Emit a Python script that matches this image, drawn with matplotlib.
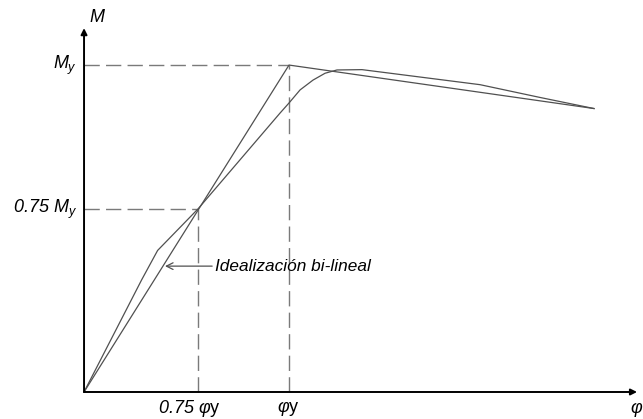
import matplotlib.pyplot as plt

plt.rcParams['font.family'] = ['Liberation Sans', 'DejaVu Sans']
plt.rcParams['mathtext.fontset'] = 'custom'
plt.rcParams['mathtext.it'] = 'Liberation Sans:italic'
plt.rcParams['mathtext.rm'] = 'Liberation Sans:italic'
plt.rcParams['mathtext.sf'] = 'Liberation Sans'

# ================= DATA ================= #
# curvature normalised by phi_y, moment normalised by M_y
phi_curve = [0, 0.281, 0.359, 0.556, 0.956, 1.0, 1.054, 1.117, 1.176, 1.234, 1.356,
             1.932, 2.224, 2.488]
m_curve = [0, 0.343, 0.433, 0.560, 0.853, 0.884, 0.924, 0.954, 0.975, 0.985, 0.986,
           0.940, 0.901, 0.867]

phi_bilin = [0, 1.0, 2.488]
m_bilin = [0, 1.0, 0.867]

phi_075 = 0.556   # where 0.75 M_y sits on the drawing
m_075 = 0.560
phi_y = 1.0
m_y = 1.0

x_axis_end = 2.698
y_axis_end = 1.113

# ================= PLOT ================= #
fig = plt.figure(figsize=(6.43, 4.19), dpi=100)
ax = fig.add_axes([0, 0, 1, 1])
ax.set_xlim(-0.410, 2.727)
ax.set_ylim(-0.0826, 1.199)
ax.axis('off')

line_col = '#505050'
dash_col = '#7a7a7a'
dash = (0, (11, 4.5))

# guide lines
ax.plot([0, phi_y], [m_y, m_y], color=dash_col, lw=1.0, ls=dash)
ax.plot([phi_y, phi_y], [0, m_y], color=dash_col, lw=1.0, ls=dash)
ax.plot([0, phi_075], [m_075, m_075], color=dash_col, lw=1.0, ls=dash)
ax.plot([phi_075, phi_075], [0, m_075], color=dash_col, lw=1.0, ls=dash)

# curves
ax.plot(phi_curve, m_curve, color=line_col, lw=0.9)
ax.plot(phi_bilin, m_bilin, color=line_col, lw=0.9)

# axes with arrows
arrow = dict(arrowstyle='-|>', color='black', lw=1.4, mutation_scale=9,
             shrinkA=0, shrinkB=0)
ax.annotate('', xy=(x_axis_end, 0), xytext=(0, 0), arrowprops=arrow)
ax.annotate('', xy=(0, y_axis_end), xytext=(0, 0), arrowprops=arrow)

# labels
fs = 13
ax.text(0.063, 1.146, 'M', style='italic', fontsize=fs, ha='center', va='center')
ax.text(-0.034, m_y, '$M_{y}$', fontsize=fs, ha='right', va='center')
ax.text(-0.034, m_075, '$0.75\\ M_{y}$', fontsize=fs, ha='right', va='center')
ax.text(0.361, -0.05, '$0.75\\ φ\\mathsf{y}$', fontsize=fs, ha='left', va='center')
ax.text(0.941, -0.05, '$φ\\mathsf{y}$', fontsize=fs, ha='left', va='center')
ax.text(2.665, -0.05, 'φ', style='italic', fontsize=fs, ha='left', va='center')

# bilinear idealisation note
ax.annotate('', xy=(0.395, 0.385), xytext=(0.625, 0.385),
            arrowprops=dict(arrowstyle='->', color=line_col, lw=0.9,
                            mutation_scale=12, shrinkA=0, shrinkB=0))
ax.text(0.639, 0.385, 'Idealización bi-lineal', style='italic', fontsize=12.4,
        ha='left', va='center')

plt.savefig('out.png', dpi=100)
